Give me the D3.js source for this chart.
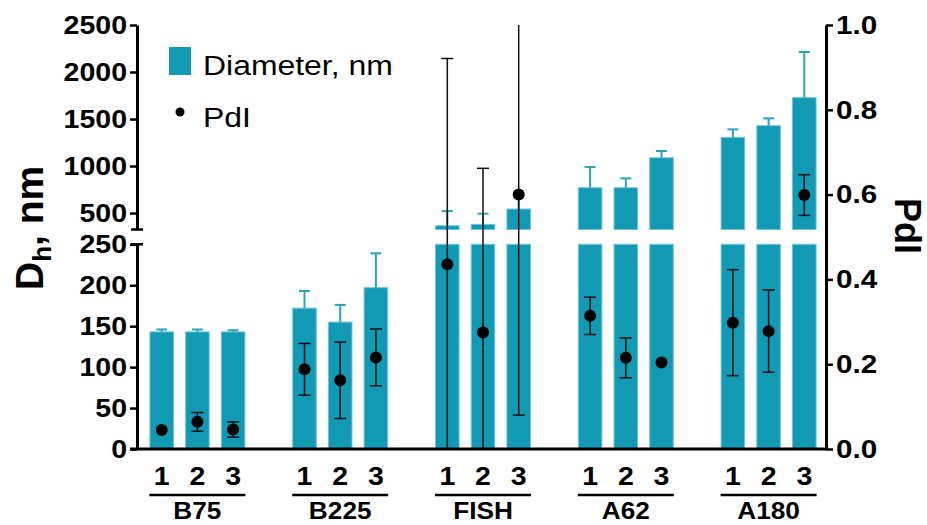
<!DOCTYPE html>
<html><head><meta charset="utf-8">
<script src="https://cdn.jsdelivr.net/npm/d3@7"></script>
<style>body{margin:0;background:#fff} svg{display:block} text{font-family:"Liberation Sans",Arial,sans-serif}</style>
</head><body><svg id="c" width="927" height="525"></svg>
<script>
const groups = ["B75","B225","FISH","A62","A180"];
const samples = ["1","2","3"];
const diameter    = [143,143,143, 172,155,197, 365,380,543, 769,769,1088, 1305,1429,1727];
const diameterErr = [3,3,2, 21,21,42, 156,113,147, 220,100,72, 85,78,486];
const pdi    = [0.045,0.064,0.046, 0.188,0.162,0.216, 0.436,0.275,0.600, 0.314,0.215,0.204, 0.298,0.278,0.599];
const pdiErr = [0,0.022,0.018, 0.061,0.09,0.067, 0.485,0.387,0.52, 0.044,0.047,0, 0.125,0.097,0.048];
const lowerTicks = [0,50,100,150,200,250];
const upperTicks = [500,1000,1500,2000,2500];
const pdiTicks = [0,0.2,0.4,0.6,0.8,1.0];
const legendLabels = ["Diameter, nm","PdI"];

const TEAL="#1299b4", TEAL_ERR="#2aa5bc", SX=1.14;
const svg=d3.select("#c");
const X0=137, X1=826, YB=449;
const yL=d3.scaleLinear().domain([0,250]).range([YB,244.3]);
const yU=d3.scaleLinear().domain([325,2500]).range([229.5,25]);
const yP=d3.scaleLinear().domain([0,1]).range([YB,25]);

const domain=groups.flatMap((g,gi)=>[...samples.map(s=>g+"|"+s),...(gi<groups.length-1?["gap"+gi]:[])]);
const x=d3.scaleBand().domain(domain).range([143.85,822.15]).paddingInner(0.34).paddingOuter(0.17);
const data=groups.flatMap((g,gi)=>samples.map((s,si)=>{const i=gi*3+si;return {key:g+"|"+s,g,s,d:diameter[i],de:diameterErr[i],p:pdi[i],pe:pdiErr[i]};}));
const cx=d=>x(d.key)+x.bandwidth()/2;

function stretch(sel){sel.each(function(){const t=d3.select(this);const xx=+t.attr("x")||0,yy=+t.attr("y")||0;t.attr("x",0).attr("y",0).attr("transform",`translate(${xx},${yy}) scale(${SX},1)`);});}

// bars
const gb=svg.append("g");
data.forEach(d=>{
  const top=yL(Math.min(d.d,250));
  gb.append("rect").attr("x",x(d.key)).attr("width",x.bandwidth()).attr("y",top).attr("height",YB-top)
    .attr("fill",TEAL).attr("stroke","#6ec6d7").attr("stroke-width",1);
  if(d.d>250){
    gb.append("rect").attr("x",x(d.key)).attr("width",x.bandwidth()).attr("y",yU(d.d)).attr("height",yU(325)-yU(d.d))
      .attr("fill",TEAL).attr("stroke","#6ec6d7").attr("stroke-width",1);
  }
});
// diameter errors
data.forEach(d=>{
  if(!d.de) return;
  const t=d.d+d.de, yt=t>250?yU(t):yL(t), yb=d.d>250?yU(d.d):yL(d.d), c=cx(d);
  gb.append("line").attr("x1",c).attr("x2",c).attr("y1",yb).attr("y2",yt).attr("stroke",TEAL_ERR).attr("stroke-width",2);
  gb.append("line").attr("x1",c-5.5).attr("x2",c+5.5).attr("y1",yt).attr("y2",yt).attr("stroke",TEAL_ERR).attr("stroke-width",2);
});
// pdi errors
data.forEach(d=>{
  if(!d.pe) return;
  const c=cx(d), lo=d.p-d.pe, hi=d.p+d.pe;
  const ylo=yP(Math.max(0,lo)), yhi=yP(Math.min(1,hi));
  gb.append("line").attr("x1",c).attr("x2",c).attr("y1",ylo).attr("y2",yhi).attr("stroke","#111").attr("stroke-width",1.5);
  if(lo>=0) gb.append("line").attr("x1",c-6).attr("x2",c+6).attr("y1",ylo).attr("y2",ylo).attr("stroke","#111").attr("stroke-width",1.5);
  if(hi<=1) gb.append("line").attr("x1",c-6).attr("x2",c+6).attr("y1",yhi).attr("y2",yhi).attr("stroke","#111").attr("stroke-width",1.5);
});
gb.selectAll("circle.pt").data(data).join("circle").attr("class","pt").attr("cx",cx).attr("cy",d=>yP(d.p)).attr("r",6).attr("fill","#000");

// axes
function styleAxis(g,fs){
  g.select(".domain").attr("stroke","#000").attr("stroke-width",3);
  g.selectAll(".tick line").attr("stroke","#000").attr("stroke-width",2.5);
  g.selectAll(".tick text").attr("fill","#000").attr("font-size",fs).attr("font-weight","bold").attr("font-family","Liberation Sans, Arial, sans-serif");
  stretch(g.selectAll(".tick text"));
}
const aL=svg.append("g").attr("transform",`translate(${X0},0)`).call(d3.axisLeft(yL).tickValues(lowerTicks).tickFormat(d3.format("d")).tickSize(7).tickSizeOuter(0).tickPadding(3));
styleAxis(aL,25);
const aU=svg.append("g").attr("transform",`translate(${X0},0)`).call(d3.axisLeft(yU).tickValues(upperTicks).tickFormat(d3.format("d")).tickSize(7).tickSizeOuter(0).tickPadding(3));
styleAxis(aU,25);
const aR=svg.append("g").attr("transform",`translate(${X1},0)`).call(d3.axisRight(yP).tickValues(pdiTicks).tickFormat(d3.format(".1f")).tickSize(7).tickSizeOuter(0).tickPadding(3));
styleAxis(aR,26);
// break caps
[yU(325),yL(250)].forEach(yy=>svg.append("line").attr("x1",X0-6).attr("x2",X0+6).attr("y1",yy).attr("y2",yy).attr("stroke","#000").attr("stroke-width",2.5));
// baseline
svg.append("line").attr("x1",X0-7).attr("x2",X1).attr("y1",YB).attr("y2",YB).attr("stroke","#000").attr("stroke-width",3);

// x labels
data.forEach(d=>{
  svg.append("text").attr("x",cx(d)).attr("y",485).attr("text-anchor","middle").attr("font-size",25).attr("font-weight","bold").text(d.s).call(stretch);
});
groups.forEach(g=>{
  const m=x(g+"|2")+x.bandwidth()/2;
  svg.append("line").attr("x1",m-48).attr("x2",m+48).attr("y1",495).attr("y2",495).attr("stroke","#000").attr("stroke-width",2.5);
  svg.append("text").attr("x",m).attr("y",519).attr("text-anchor","middle").attr("font-size",23).attr("font-weight","bold").text(g).call(stretch);
});

// axis titles
const yt=svg.append("text").attr("transform","translate(43,290) rotate(-90)").attr("font-size",39).attr("font-weight","bold");
yt.append("tspan").text("D");
yt.append("tspan").attr("font-size",26).attr("dy",8).text("h");
yt.append("tspan").attr("dy",-8).text(", nm");
svg.append("text").attr("transform","translate(895,198) rotate(90)").attr("font-size",36).attr("font-weight","bold").text("PdI");

// legend
svg.append("rect").attr("x",169).attr("y",47).attr("width",22).attr("height",28).attr("fill",TEAL);
svg.append("text").attr("x",203).attr("y",75).attr("font-size",28).text(legendLabels[0]).call(stretch);
svg.append("circle").attr("cx",180).attr("cy",112).attr("r",4.5).attr("fill","#000");
svg.append("text").attr("x",203).attr("y",127).attr("font-size",28).text(legendLabels[1]).call(stretch);
</script></body></html>
